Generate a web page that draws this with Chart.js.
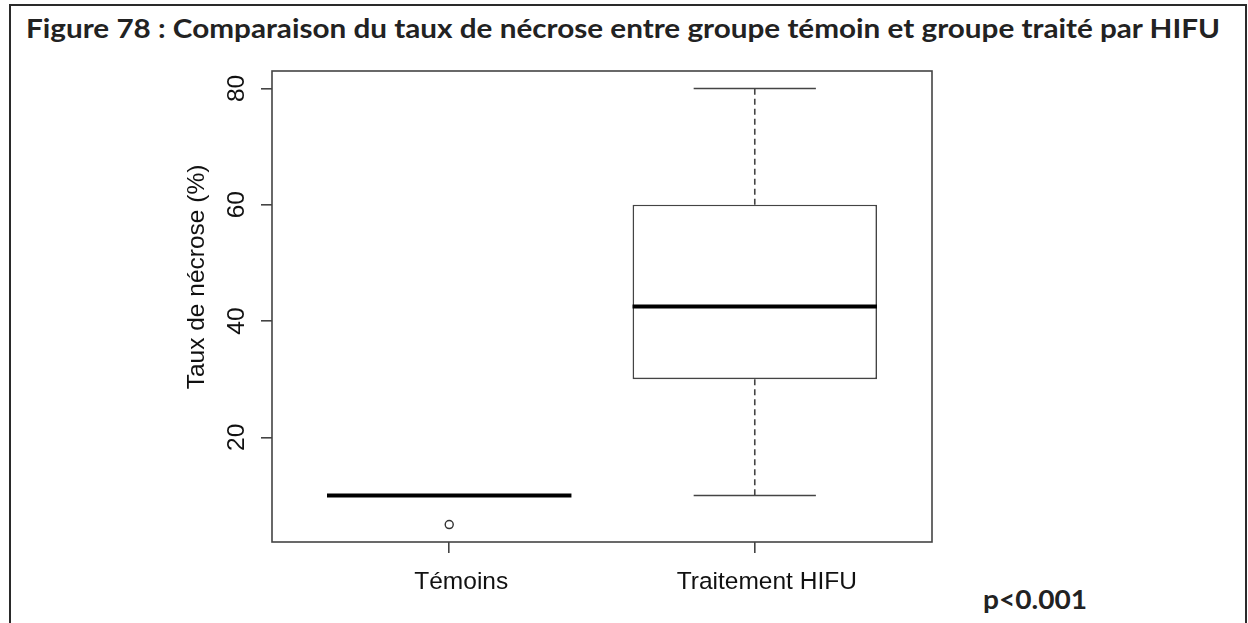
<!DOCTYPE html>
<html lang="fr">
<head>
<meta charset="utf-8">
<title>Taux de nécrose</title>
<script src="https://cdn.jsdelivr.net/npm/chart.js@4.4.1/dist/chart.umd.min.js"></script>
<style>
  html, body { margin: 0; padding: 0; background: #fff; }
  body { width: 1248px; height: 623px; position: relative; overflow: hidden; }
  #cadre {
    position: absolute; left: 9px; top: 4px; width: 1234px; height: 640px;
    border-top: 2px solid #2a2a2a; border-left: 2px solid #2a2a2a; border-right: 2px solid #2a2a2a;
  }
  .calibri { position: absolute; font-family: Lato, "Open Sans", sans-serif; font-weight: 700; color: #222; white-space: nowrap; transform-origin: 0 0; }
  #titre { left: 26px; top: 12px; font-size: 27px; line-height: 32px; }
  #pval { left: 983px; top: 583px; font-size: 27px; line-height: 32px; }
  #zone { position: absolute; left: 0; top: 0; width: 1248px; height: 623px; }
</style>
</head>
<body>
<div id="cadre"></div>
<div id="titre" class="calibri">Figure 78 : Comparaison du taux de nécrose entre groupe témoin et groupe traité par HIFU</div>
<div id="pval" class="calibri">p&lt;0.001</div>
<div id="zone"><canvas id="boxplot"></canvas></div>
<script>
// groupes et statistiques des boites
const groupes = ['Témoins', 'Traitement HIFU'];
const minimums = [10, 10];
const quartile1 = [10, 30];
const medianes = [10, 42.5];
const quartile3 = [10, 60];
const maximums = [10, 80];
const aberrants = [[5], []];
const graduationsY = [20, 40, 60, 80];
const titreY = 'Taux de nécrose (%)';

const gris = '#444';
const policeR = '"Liberation Sans", Arial, sans-serif';
const taille = 24.5;

// ajuste la largeur d'un texte (police de remplacement plus large ou plus etroite)
function ajusterLargeur(id, largeur) {
  const el = document.getElementById(id);
  const w = el.getBoundingClientRect().width;
  el.style.transform = 'scaleX(' + (largeur / w) + ')';
}
ajusterLargeur('titre', 1194);
ajusterLargeur('pval', 104);

// moustaches, medianes, cadre du graphe et titre de l'axe y
const moustaches = {
  id: 'moustaches',
  afterDatasetsDraw(chart) {
    const ctx = chart.ctx;
    const x = chart.scales.x;
    const y = chart.scales.y;
    const a = chart.chartArea;
    ctx.save();
    groupes.forEach((g, i) => {
      const cx = x.getPixelForValue(i + 1);
      const demi = x.getPixelForValue(i + 1.2) - cx;
      // lignes pointillees
      ctx.strokeStyle = gris;
      ctx.lineWidth = 1.6;
      ctx.setLineDash([6, 4]);
      ctx.beginPath();
      ctx.moveTo(cx, y.getPixelForValue(quartile3[i]));
      ctx.lineTo(cx, y.getPixelForValue(maximums[i]));
      ctx.moveTo(cx, y.getPixelForValue(quartile1[i]));
      ctx.lineTo(cx, y.getPixelForValue(minimums[i]));
      ctx.stroke();
      // extremites
      ctx.setLineDash([]);
      ctx.beginPath();
      [minimums[i], maximums[i]].forEach(v => {
        const py = y.getPixelForValue(v);
        ctx.moveTo(cx - demi, py);
        ctx.lineTo(cx + demi, py);
      });
      ctx.stroke();
      // mediane
      const pm = y.getPixelForValue(medianes[i]);
      ctx.strokeStyle = '#000';
      ctx.lineWidth = 4;
      ctx.beginPath();
      ctx.moveTo(x.getPixelForValue(i + 0.6), pm);
      ctx.lineTo(x.getPixelForValue(i + 1.4), pm);
      ctx.stroke();
    });
    ctx.strokeStyle = gris;
    ctx.lineWidth = 1.6;
    ctx.strokeRect(a.left, a.top, a.right - a.left, a.bottom - a.top);

    // titre vertical
    ctx.translate(197, 277);
    ctx.rotate(-Math.PI / 2);
    ctx.font = taille + 'px ' + policeR;
    ctx.fillStyle = '#111';
    ctx.textAlign = 'center';
    ctx.textBaseline = 'middle';
    ctx.fillText(titreY, 0, 0);
    ctx.restore();
  }
};

const pointsAberrants = [];
aberrants.forEach((liste, i) => liste.forEach(v => pointsAberrants.push({ x: i + 1, y: v })));

new Chart(document.getElementById('boxplot'), {
  data: {
    datasets: [
      {
        type: 'bar',
        data: groupes.map((g, i) => ({ x: i + 1, y: [quartile1[i], quartile3[i]] })),
        backgroundColor: '#fff',
        borderColor: gris,
        borderWidth: 1.6,
        borderSkipped: false,
        categoryPercentage: 0.8,
        barPercentage: 1
      },
      {
        type: 'scatter',
        data: pointsAberrants,
        pointRadius: 4,
        pointBackgroundColor: '#fff',
        pointBorderColor: '#333',
        pointBorderWidth: 1.4
      }
    ]
  },
  options: {
    responsive: true,
    maintainAspectRatio: false,
    animation: false,
    layout: { padding: { left: 178.6, top: 71, right: 316, bottom: 20 } },
    plugins: { legend: { display: false }, tooltip: { enabled: false } },
    scales: {
      x: {
        type: 'linear',
        min: 0.42,
        max: 2.58,
        offset: false,
        afterBuildTicks: s => { s.ticks = groupes.map((g, i) => ({ value: i + 1 })); },
        afterFit: s => { s.height = 623 - 542 - 20; },
        grid: { offset: false, drawOnChartArea: false, drawTicks: true, tickLength: 11, color: gris, lineWidth: 1.6 },
        border: { display: false },
        ticks: {
          callback: (v, i) => groupes[i],
          font: { family: policeR, size: taille },
          color: '#111',
          padding: 14.3,
          labelOffset: 12,
          maxRotation: 0
        }
      },
      y: {
        min: 2,
        max: 83,
        afterBuildTicks: s => { s.ticks = graduationsY.map(v => ({ value: v })); },
        afterFit: s => { s.width = 272 - 178.6; },
        grid: { drawOnChartArea: false, drawTicks: true, tickLength: 11, color: gris, lineWidth: 1.6 },
        border: { display: false },
        ticks: {
          minRotation: 90,
          maxRotation: 90,
          crossAlign: 'center',
          padding: 10.2,
          font: { family: policeR, size: taille },
          color: '#111'
        }
      }
    }
  },
  plugins: [moustaches]
});
</script>
</body>
</html>
